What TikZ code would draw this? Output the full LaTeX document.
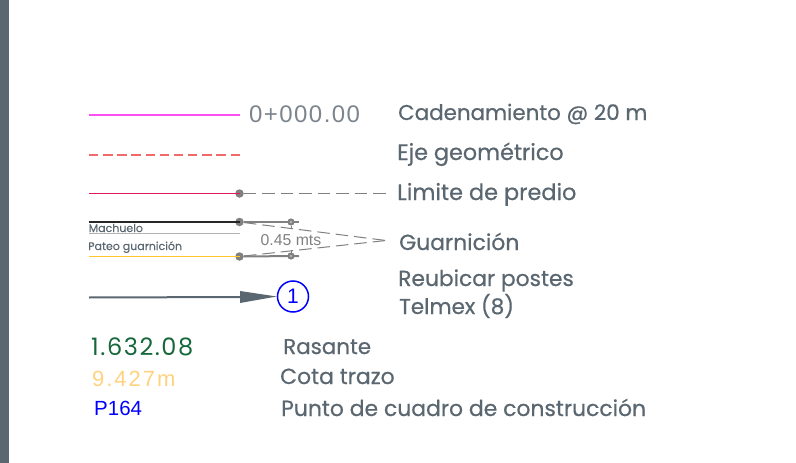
\documentclass[tikz,border=0pt]{standalone}
\usepackage{fontspec}
\setmainfont{Poppins}
\newfontfamily\labf[FakeBold=0.6]{Poppins}
\newfontfamily\smallf[FakeBold=0.2]{Poppins}
\newfontfamily\arialf{Liberation Sans}
\newfontfamily\chainf[LetterSpace=6]{Liberation Sans}
\newfontfamily\levelf[LetterSpace=9]{Liberation Sans}
\newfontfamily\rasf[LetterSpace=6.5]{Poppins}
\definecolor{slate}{HTML}{5B6770}
\definecolor{gr}{HTML}{808080}
\definecolor{mag}{HTML}{FF4DF5}
\definecolor{redd}{HTML}{F06A6A}
\definecolor{pinkr}{HTML}{E0185F}
\definecolor{gold}{HTML}{FFC72C}
\definecolor{dgreen}{HTML}{16683C}
\definecolor{lgold}{HTML}{FFD27F}
\definecolor{bblue}{HTML}{0000FF}
\newcommand{\labsize}[1]{\fontsize{#1}{#1}\selectfont}
\tikzset{
  x=1pt,y=-1pt,
  lab/.style={anchor=base west,inner sep=0pt,text=slate,font=\labf},
  small/.style={anchor=base west,inner sep=0pt,text=slate,font=\smallf\fontsize{11}{11}\selectfont},
  dot/.style={circle,fill=gr,draw=none,inner sep=0pt,minimum size=8.5pt},
  ring/.style={circle,fill=gray!60,draw=gr,line width=2pt,inner sep=0pt,minimum size=5pt},
  dashg/.style={gr,line width=1pt,dash pattern=on 12.5pt off 6pt},
  thickg/.style={gr,line width=2pt},
}
\begin{document}
\begin{tikzpicture}
\useasboundingbox (0,0) rectangle (796,463);
\fill[slate] (0,0) rectangle (9,463);
% row 1
\coordinate (a1) at (89,114.5);
\coordinate (a2) at (240,114.5);
\draw[mag,line width=2pt] (a1) -- (a2);
\node[anchor=base west,inner sep=0pt,text=slate!80,font=\chainf\fontsize{24}{24}\selectfont] (chain) at (249,122) {0+000.00};
\node[lab] (t1) at (398,120) {\labsize{21.4}Cadenamiento @ 20 m};
% row 2
\coordinate (b1) at (89,155);
\coordinate (b2) at (240,155);
\draw[redd,line width=1.7pt,dash pattern=on 9.4pt off 4.75pt] (b1) -- (b2);
\node[lab] (t2) at (397,160) {\labsize{22.3}Eje geométrico};
% row 3
\coordinate (c1) at (89,193.5);
\node[dot] (c2) at (239.5,193.5) {};
\coordinate (c3) at (386,193.5);
\draw[pinkr,line width=1.2pt] (c1) -- (c2.center);
\draw[dashg] (c2) -- (c3);
\node[lab] (t3) at (397,200) {\labsize{22.4}Limite de predio};
% row 4
\coordinate (d1) at (89,222);
\coordinate (d5) at (89,256.5);
\coordinate (d7) at (89,233.5);
\coordinate (d8) at (240,233.5);
\node[dot] (d2) at (239.5,222) {};
\node[dot] (d6) at (239.5,256.5) {};
\coordinate (d3) at (299,222);
\coordinate (d9) at (299,256);
\coordinate (tip) at (386,240.5);
\draw[black!85,line width=1.2pt] (d1) -- (d2.center);
\draw[gray!60,line width=1.2pt] (d7) -- (d8);
\draw[gold,line width=1.8pt] (d5) -- (d6.center);
\draw[thickg] (d2) -- (d3);
\draw[thickg] (d6) -- (d9);
\node[ring] (r1) at (291,222) {};
\node[ring] (r2) at (291,256) {};
\draw[gr,line width=1pt] (r1) -- (291,228);
\draw[gr,line width=1pt] (r2) -- (291,250);
\draw[dashg] (d2) -- (tip);
\draw[dashg] (d6) -- (tip);
\node[anchor=base,inner sep=1pt,text=gr,font=\arialf\fontsize{15.8}{15.8}\selectfont] (dim) at (291,245.5) {0.45 mts};
\node[small] (m) at (88.5,232) {Machuelo};
\node[small] (p) at (88,250) {Pateo guarnición};
\node[lab] (t4) at (399,250) {\labsize{21.9}Guarnición};
% row 5
\coordinate (e1) at (89,297.5);
\node[circle,draw=bblue,line width=1.5pt,inner sep=0pt,minimum size=31pt,text=bblue,font=\arialf\fontsize{21}{21}\selectfont] (one) at (293,296.5) {1};
\coordinate (e2) at (244,297);
\draw[slate,line width=2pt] (e1) -- (e2);
\fill[slate] (240,291) -- (one.west) -- (240,303) -- cycle;
\node[lab] (t5) at (398,286) {\labsize{21.8}Reubicar postes};
\node[lab] (t6) at (399,314) {\labsize{21.5}Telmex (8)};
% bottom
\node[anchor=base west,inner sep=0pt,text=dgreen,font=\rasf\fontsize{24}{24}\selectfont] (v1) at (91,355) {1.632.08};
\node[anchor=base west,inner sep=0pt,text=lgold,font=\levelf\fontsize{22}{22}\selectfont] (v2) at (92,386) {9.427m};
\node[anchor=base west,inner sep=0pt,text=bblue,font=\arialf\fontsize{20.5}{20.5}\selectfont] (v3) at (94,415) {P164};
\node[lab] (t7) at (283,354) {\labsize{21.4}Rasante};
\node[lab] (t8) at (280,384) {\labsize{21.9}Cota trazo};
\node[lab] (t9) at (281,416) {\labsize{21.9}Punto de cuadro de construcción};
\end{tikzpicture}
\end{document}
